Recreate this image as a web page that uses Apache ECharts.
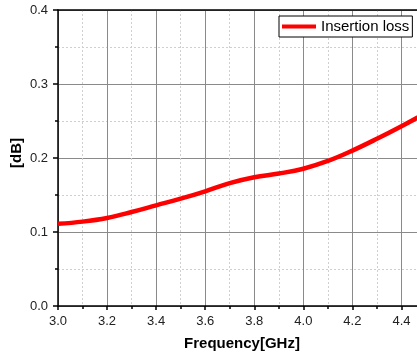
<!DOCTYPE html>
<html>
<head>
<meta charset="utf-8">
<script src="https://cdn.jsdelivr.net/npm/echarts@6/dist/echarts.min.js"></script>
<style>
  html, body { margin: 0; padding: 0; background: #fff; }
  #chart { width: 417px; height: 357px; }
</style>
</head>
<body>
<div id="chart"></div>
<script>
// frequency in GHz, insertion loss in dB
const freq = [3.0, 3.1, 3.2, 3.3, 3.4, 3.5, 3.6, 3.7, 3.8, 3.9, 4.0, 4.1, 4.2, 4.3, 4.4, 4.5];
const insertionLoss = [0.111, 0.114, 0.119, 0.127, 0.136, 0.145, 0.155, 0.166, 0.174, 0.179, 0.1855, 0.196, 0.210, 0.226, 0.243, 0.261];

const FONT = 'Arial, "Liberation Sans", sans-serif';

const chart = echarts.init(document.getElementById('chart'), null, { renderer: 'canvas' });

const option = {
  animation: false,
  backgroundColor: '#fff',
  grid: { left: 58, right: -9, top: 10, bottom: 51, containLabel: false, outerBoundsMode: 'none' },
  legend: {
    left: 279,
    top: 16,
    padding: [3, 3, 3, 3],
    itemWidth: 34,
    itemHeight: 4,
    itemGap: 5,
    borderColor: '#000',
    borderWidth: 1,
    borderRadius: 0,
    backgroundColor: '#fff',
    textStyle: { fontFamily: FONT, fontSize: 15, color: '#000', padding: [0, 0, 0, 0], lineHeight: 15 },
    data: [{ name: 'Insertion loss', icon: 'rect' }]
  },
  xAxis: [
    {
      type: 'value',
      min: 3.0,
      max: 4.5,
      interval: 0.2,
      name: 'Frequency[GHz]',
      nameLocation: 'middle',
      nameGap: 30,
      nameMoveOverlap: false,
      nameTextStyle: { fontFamily: FONT, fontSize: 15, fontWeight: 'bold', color: '#000' },
      axisLine: { show: true, onZero: false, lineStyle: { color: '#000', width: 1.5 } },
      axisTick: { show: true, length: 4, lineStyle: { color: '#000', width: 1.5 } },
      minorTick: { show: true, splitNumber: 2, length: 3, lineStyle: { color: '#000', width: 1.5 } },
      axisLabel: {
        margin: 9,
        fontFamily: FONT, fontSize: 13, color: '#222',
        showMaxLabel: false,
        formatter: v => v.toFixed(1)
      },
      splitLine: { show: true, lineStyle: { color: '#8a8a8a', width: 1 } },
      minorSplitLine: { show: true, lineStyle: { color: '#cfcfcf', width: 1, type: [2, 2] } }
    },
    {
      type: 'value',
      position: 'top',
      min: 3.0,
      max: 4.5,
      interval: 0.2,
      axisLine: { show: true, onZero: false, lineStyle: { color: '#000', width: 1.5 } },
      axisTick: { show: false },
      axisLabel: { show: false },
      splitLine: { show: false }
    }
  ],
  yAxis: {
    type: 'value',
    min: 0,
    max: 0.4,
    interval: 0.1,
    name: '[dB]',
    nameLocation: 'middle',
    nameGap: 34,
    nameMoveOverlap: false,
    nameTextStyle: { fontFamily: FONT, fontSize: 15, fontWeight: 'bold', color: '#000', padding: [0, 0, 0, 10] },
    axisLine: { show: true, onZero: false, lineStyle: { color: '#000', width: 1.5 } },
    axisTick: { show: true, length: 5, lineStyle: { color: '#000', width: 1.5 } },
    minorTick: { show: true, splitNumber: 2, length: 3, lineStyle: { color: '#000', width: 1.5 } },
    axisLabel: {
      margin: 10,
      fontFamily: FONT, fontSize: 13, color: '#222',
      formatter: v => v.toFixed(1)
    },
    splitLine: { show: true, lineStyle: { color: '#8a8a8a', width: 1 } },
    minorSplitLine: { show: true, lineStyle: { color: '#cfcfcf', width: 1, type: [2, 2] } }
  },
  series: [
    {
      name: 'Insertion loss',
      type: 'line',
      xAxisIndex: 0,
      smooth: 0.4,
      symbol: 'none',
      lineStyle: { color: '#ff0000', width: 4.5 },
      itemStyle: { color: '#ff0000' },
      data: freq.map((f, i) => [f, insertionLoss[i]])
    }
  ]
};

chart.setOption(option);
</script>
</body>
</html>
